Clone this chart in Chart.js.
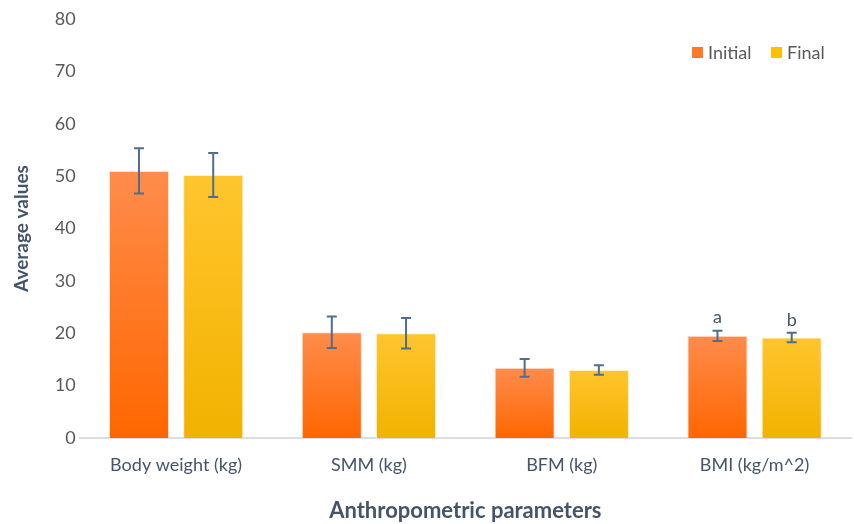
<!DOCTYPE html>
<html>
<head>
<meta charset="utf-8">
<script src="https://cdn.jsdelivr.net/npm/chart.js@4"></script>
<style>
  html, body { margin: 0; padding: 0; background: #fff; }
  #wrap { width: 854px; height: 524px; }
</style>
</head>
<body>
<div id="wrap"><canvas id="chart" width="854" height="524"></canvas></div>
<script>
// data
const categories = ['Body weight (kg)', 'SMM (kg)', 'BFM (kg)', 'BMI (kg/m^2)'];
const initialValues = [51.0, 20.2, 13.4, 19.5];
const finalValues = [50.2, 20.0, 13.0, 19.2];
const initialErr = [4.3, 3.0, 1.7, 1.0];
const finalErr = [4.2, 2.9, 0.9, 0.9];
const initialMarks = ['', '', '', 'a'];
const finalMarks = ['', '', '', 'b'];
const yTicks = [0, 10, 20, 30, 40, 50, 60, 70, 80];

const fontName = 'Lato, "Open Sans", sans-serif';

function barGradient(top, bottom) {
  return (ctx) => {
    const chart = ctx.chart;
    if (!chart.chartArea || ctx.type !== 'data') return bottom;
    const y = chart.scales.y;
    const yTop = y.getPixelForValue(ctx.raw);
    const yBase = y.getPixelForValue(0);
    const g = chart.ctx.createLinearGradient(0, yTop, 0, yBase);
    g.addColorStop(0, top);
    g.addColorStop(1, bottom);
    return g;
  };
}

// error bars + letters above
const errorBars = {
  id: 'errorBars',
  afterDatasetsDraw(chart) {
    const c = chart.ctx;
    const y = chart.scales.y;
    const errs = [initialErr, finalErr];
    const marks = [initialMarks, finalMarks];
    c.save();
    chart.data.datasets.forEach((ds, i) => {
      const meta = chart.getDatasetMeta(i);
      meta.data.forEach((bar, j) => {
        const v = ds.data[j];
        const hi = y.getPixelForValue(v + errs[i][j]);
        const lo = y.getPixelForValue(v - errs[i][j]);
        c.strokeStyle = '#4F6E8F';
        c.lineWidth = 2;
        c.beginPath();
        c.moveTo(bar.x, hi); c.lineTo(bar.x, lo);
        c.moveTo(bar.x - 5, hi); c.lineTo(bar.x + 5, hi);
        c.moveTo(bar.x - 5, lo); c.lineTo(bar.x + 5, lo);
        c.stroke();
        if (marks[i][j]) {
          c.fillStyle = '#44546A';
          c.font = '18px ' + fontName;
          c.textAlign = 'center';
          c.textBaseline = 'bottom';
          c.fillText(marks[i][j], bar.x, hi - 4);
        }
      });
    });
    c.restore();
  }
};

// legend sitting inside the plot, top right
const innerLegend = {
  id: 'innerLegend',
  afterDraw(chart) {
    const c = chart.ctx;
    const items = [
      { label: chart.data.datasets[0].label, color: '#FF7A26', x: 692 },
      { label: chart.data.datasets[1].label, color: '#FFC000', x: 771 }
    ];
    c.save();
    c.font = '18px ' + fontName;
    c.textBaseline = 'middle';
    c.textAlign = 'left';
    items.forEach(it => {
      c.fillStyle = it.color;
      c.fillRect(it.x, 47, 11, 11);
      c.fillStyle = '#595959';
      c.fillText(it.label, it.x + 16, 53);
    });
    c.restore();
  }
};

new Chart(document.getElementById('chart').getContext('2d'), {
  type: 'bar',
  data: {
    labels: categories,
    datasets: [
      {
        label: 'Initial',
        data: initialValues,
        backgroundColor: barGradient('#FF8C4C', '#FF6600'),
        borderColor: 'rgba(255,220,200,0.8)',
        borderWidth: 1,
        categoryPercentage: 0.77,
        barPercentage: 0.81
      },
      {
        label: 'Final',
        data: finalValues,
        backgroundColor: barGradient('#FFC52E', '#F2B200'),
        borderColor: 'rgba(255,235,180,0.8)',
        borderWidth: 1,
        categoryPercentage: 0.77,
        barPercentage: 0.81
      }
    ]
  },
  options: {
    responsive: false,
    animation: false,
    layout: { padding: { top: 19, right: 3, left: 10, bottom: 0 } },
    plugins: {
      legend: { display: false },
      tooltip: { enabled: false }
    },
    scales: {
      x: {
        grid: { display: false, drawTicks: false },
        border: { display: true, color: '#D9DEE6', width: 2 },
        ticks: { color: '#44546A', font: { family: fontName, size: 18 }, padding: 16 },
        title: {
          display: true,
          text: 'Anthropometric parameters',
          color: '#44546A',
          font: { family: fontName, size: 22, weight: 'bold' },
          padding: { top: 6, bottom: 0 }
        }
      },
      y: {
        min: 0,
        max: 80,
        afterBuildTicks: (axis) => { axis.ticks = yTicks.map(v => ({ value: v })); },
        grid: { display: false, drawTicks: false },
        border: { display: false },
        ticks: { color: '#595959', font: { family: fontName, size: 18 }, padding: 4 },
        title: {
          display: true,
          text: 'Average values',
          color: '#44546A',
          font: { family: fontName, size: 19, weight: 'bold' },
          padding: { top: 0, bottom: 18 }
        }
      }
    }
  },
  plugins: [errorBars, innerLegend]
});
</script>
</body>
</html>
